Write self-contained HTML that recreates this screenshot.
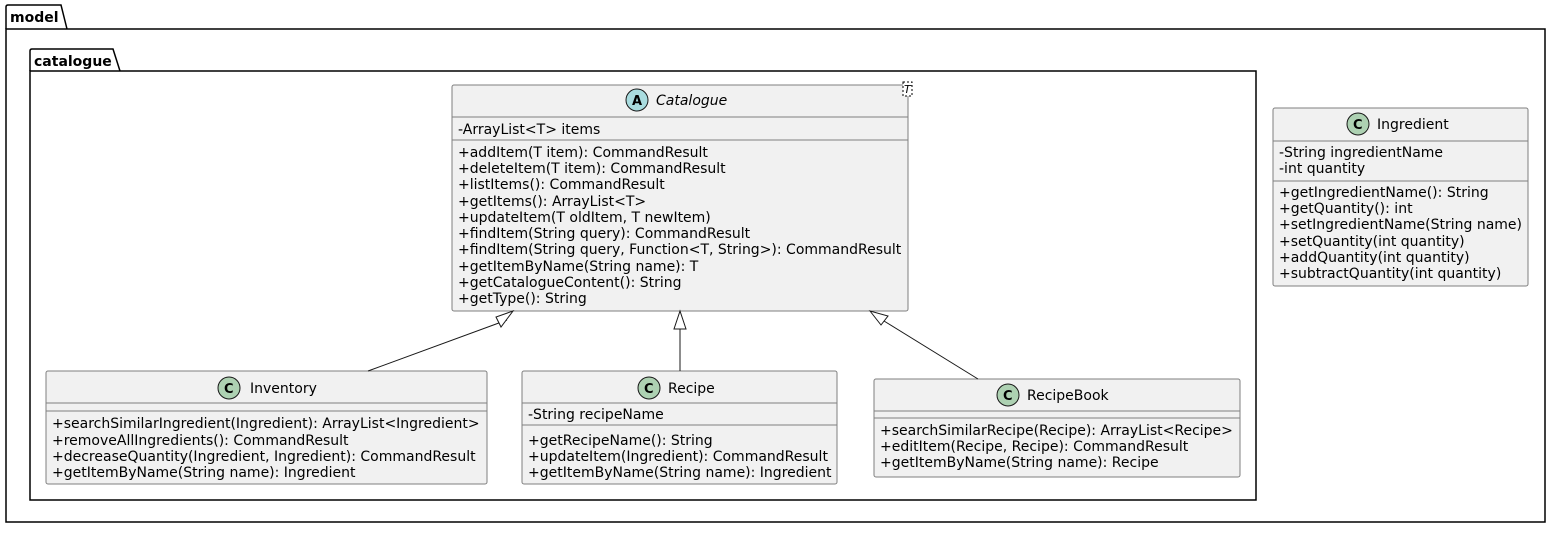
<!DOCTYPE html>
<html><head><style>
html,body{margin:0;padding:0;background:#fff;}
svg text{font-family:"DejaVu Sans","Liberation Sans",sans-serif;font-size:14px;fill:#000;}
</style></head><body>
<svg width="1551" height="530" viewBox="0 0 1551 530" xmlns="http://www.w3.org/2000/svg">
<!-- model package -->
<path d="M6,29 L6,7 Q6,5 8,5 L61,5 L67,29" fill="none" stroke="#000" stroke-width="1.5"/>
<rect x="6" y="29" width="1539" height="493" fill="none" stroke="#000" stroke-width="1.5"/>
<text x="10" y="22" style="font-weight:bold;font-size:14px">model</text>
<!-- catalogue package -->
<path d="M30,71 L30,51 Q30,49 32,49 L113,49 L120,71" fill="none" stroke="#000" stroke-width="1.5"/>
<rect x="30" y="71" width="1226" height="429" fill="none" stroke="#000" stroke-width="1.5"/>
<text x="34" y="66" style="font-weight:bold;font-size:14px">catalogue</text>

<!-- Catalogue -->
<rect x="452" y="85" width="456" height="226" rx="2" fill="#f1f1f1" stroke="#7f7f7f"/>
<line x1="452" y1="117" x2="908" y2="117" stroke="#7f7f7f"/>
<line x1="452" y1="140" x2="908" y2="140" stroke="#7f7f7f"/>
<circle cx="637" cy="100" r="11" fill="#a9dcdf" stroke="#181818"/>
<text x="632" y="105" style="font-weight:bold;font-size:13px">A</text>
<text x="656" y="105" style="font-style:italic">Catalogue</text>
<rect x="903" y="82" width="9" height="14" fill="#fff" stroke="#000" stroke-dasharray="2,2"/>
<text x="904" y="93" style="font-style:italic;font-size:11px">T</text>
<text x="458" y="134">-ArrayList&lt;T&gt; items</text>
<text x="458" y="157">+addItem(T item): CommandResult</text>
<text x="458" y="173">+deleteItem(T item): CommandResult</text>
<text x="458" y="189">+listItems(): CommandResult</text>
<text x="458" y="206">+getItems(): ArrayList&lt;T&gt;</text>
<text x="458" y="222">+updateItem(T oldItem, T newItem)</text>
<text x="458" y="238">+findItem(String query): CommandResult</text>
<text x="458" y="254">+findItem(String query, Function&lt;T, String&gt;): CommandResult</text>
<text x="458" y="271">+getItemByName(String name): T</text>
<text x="458" y="287">+getCatalogueContent(): String</text>
<text x="458" y="303">+getType(): String</text>

<!-- Inventory -->
<rect x="46" y="371" width="441" height="113" rx="2" fill="#f1f1f1" stroke="#7f7f7f"/>
<line x1="46" y1="403" x2="487" y2="403" stroke="#7f7f7f"/>
<line x1="46" y1="411" x2="487" y2="411" stroke="#7f7f7f"/>
<circle cx="229" cy="388" r="11" fill="#add1b2" stroke="#181818"/>
<text x="224" y="393" style="font-weight:bold;font-size:13px">C</text>
<text x="250" y="393">Inventory</text>
<text x="52" y="428">+searchSimilarIngredient(Ingredient): ArrayList&lt;Ingredient&gt;</text>
<text x="52" y="445">+removeAllIngredients(): CommandResult</text>
<text x="52" y="461">+decreaseQuantity(Ingredient, Ingredient): CommandResult</text>
<text x="52" y="477">+getItemByName(String name): Ingredient</text>

<!-- Recipe -->
<rect x="522" y="371" width="315" height="113" rx="2" fill="#f1f1f1" stroke="#7f7f7f"/>
<line x1="522" y1="403" x2="837" y2="403" stroke="#7f7f7f"/>
<line x1="522" y1="425" x2="837" y2="425" stroke="#7f7f7f"/>
<circle cx="649" cy="388" r="11" fill="#add1b2" stroke="#181818"/>
<text x="644" y="393" style="font-weight:bold;font-size:13px">C</text>
<text x="668" y="393">Recipe</text>
<text x="528" y="419">-String recipeName</text>
<text x="528" y="445">+getRecipeName(): String</text>
<text x="528" y="461">+updateItem(Ingredient): CommandResult</text>
<text x="528" y="477">+getItemByName(String name): Ingredient</text>

<!-- RecipeBook -->
<rect x="874" y="379" width="366" height="98" rx="2" fill="#f1f1f1" stroke="#7f7f7f"/>
<line x1="874" y1="411" x2="1240" y2="411" stroke="#7f7f7f"/>
<line x1="874" y1="418" x2="1240" y2="418" stroke="#7f7f7f"/>
<circle cx="1008" cy="395" r="11" fill="#add1b2" stroke="#181818"/>
<text x="1003" y="400" style="font-weight:bold;font-size:13px">C</text>
<text x="1027" y="400">RecipeBook</text>
<text x="880" y="435">+searchSimilarRecipe(Recipe): ArrayList&lt;Recipe&gt;</text>
<text x="880" y="451">+editItem(Recipe, Recipe): CommandResult</text>
<text x="880" y="467">+getItemByName(String name): Recipe</text>

<!-- Ingredient -->
<rect x="1273" y="108" width="255" height="178" rx="2" fill="#f1f1f1" stroke="#7f7f7f"/>
<line x1="1273" y1="141" x2="1528" y2="141" stroke="#7f7f7f"/>
<line x1="1273" y1="181" x2="1528" y2="181" stroke="#7f7f7f"/>
<circle cx="1358" cy="124" r="11" fill="#add1b2" stroke="#181818"/>
<text x="1353" y="129" style="font-weight:bold;font-size:13px">C</text>
<text x="1377" y="129">Ingredient</text>
<text x="1279" y="157">-String ingredientName</text>
<text x="1279" y="173">-int quantity</text>
<text x="1279" y="197">+getIngredientName(): String</text>
<text x="1279" y="213">+getQuantity(): int</text>
<text x="1279" y="229">+setIngredientName(String name)</text>
<text x="1279" y="246">+setQuantity(int quantity)</text>
<text x="1279" y="262">+addQuantity(int quantity)</text>
<text x="1279" y="278">+subtractQuantity(int quantity)</text>

<!-- inheritance arrows -->
<g stroke="#181818" fill="none">
<line x1="368" y1="371" x2="507" y2="320"/>
<polygon points="513,311 496,317 501,327" fill="#fff"/>
<line x1="680" y1="371" x2="680" y2="329"/>
<polygon points="680,311 674,329 686,329" fill="#fff"/>
<line x1="978" y1="379" x2="884" y2="321"/>
<polygon points="870,311 881,325 888,316" fill="#fff"/>
</g>
</svg>
</body></html>
